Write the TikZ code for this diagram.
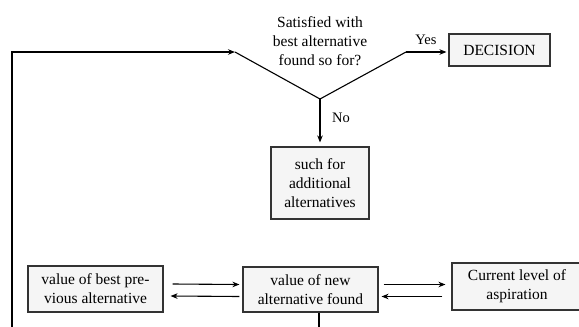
\documentclass[tikz,border=0pt]{standalone}
\usepackage{fontspec}
\setmainfont{Liberation Serif}
\usepackage{tikz}
\usetikzlibrary{arrows.meta}

\begin{document}
\begin{tikzpicture}[
    x=1pt, y=-1pt,
    box/.style={rectangle, draw=black!80, fill=gray!8, line width=1.1pt, inner sep=0pt, align=center, font=\fontsize{15.5}{19}\selectfont},
    lbl/.style={align=center, font=\fontsize{15.5}{19}\selectfont},
    arrow/.style={-{Stealth[length=7pt, width=5.5pt]}, line width=1.1pt}
]
\useasboundingbox (0,0) rectangle (579,327);
% question and branch point
\node[lbl] (q) at (320,41) {Satisfied with\\best alternative\\found so for?};
\coordinate (lt) at (235,52);
\coordinate (apex) at (320,99);
\coordinate (rt) at (406,52);
\node[box, minimum width=101pt, minimum height=32pt] (dec) at (499.5,50) {DECISION};
\node[box, minimum width=98pt, minimum height=72pt] (search) at (320,183) {such for\\additional\\alternatives};
% lower row
\node[box, minimum width=135pt, minimum height=46pt] (prev) at (95.5,289) {value of best pre-\\vious alternative};
\node[box, minimum width=135pt, minimum height=45pt] (new) at (310.5,289.5) {value of new\\alternative found};
\node[box, minimum width=130pt, minimum height=47pt] (asp) at (517,286.5) {Current level of\\aspiration};
\node[lbl, font=\fontsize{14.5}{17}\selectfont] (yes) at (426,40) {Yes};
\node[lbl, font=\fontsize{14.5}{17}\selectfont] (no) at (341,118) {No};
\coordinate (loopbot) at (12,327);
\coordinate (newbot) at (319,327);
\draw[line width=1.1pt] (lt) -- (apex) -- (rt);
\draw[arrow] (rt) -- ([xshift=-2pt]dec.west |- rt);
\draw[arrow] (apex) -- ([yshift=4pt]search.north);
\draw[arrow] (loopbot) |- (lt);
\draw[line width=1.1pt] ([xshift=8.5pt]new.south) -- (newbot);
\draw[arrow] ([xshift=9pt, yshift=5pt]prev.east) -- ([xshift=-3pt, yshift=5pt]new.west);
\draw[arrow] ([xshift=-3pt, yshift=-7pt]new.west) -- ([xshift=7pt, yshift=-7pt]prev.east);
\draw[arrow] ([xshift=5pt, yshift=5pt]new.east) -- ([xshift=-6pt, yshift=2pt]asp.west);
\draw[arrow] ([xshift=-9pt, yshift=-10pt]asp.west) -- ([xshift=3pt, yshift=-7pt]new.east);
\end{tikzpicture}
\end{document}
